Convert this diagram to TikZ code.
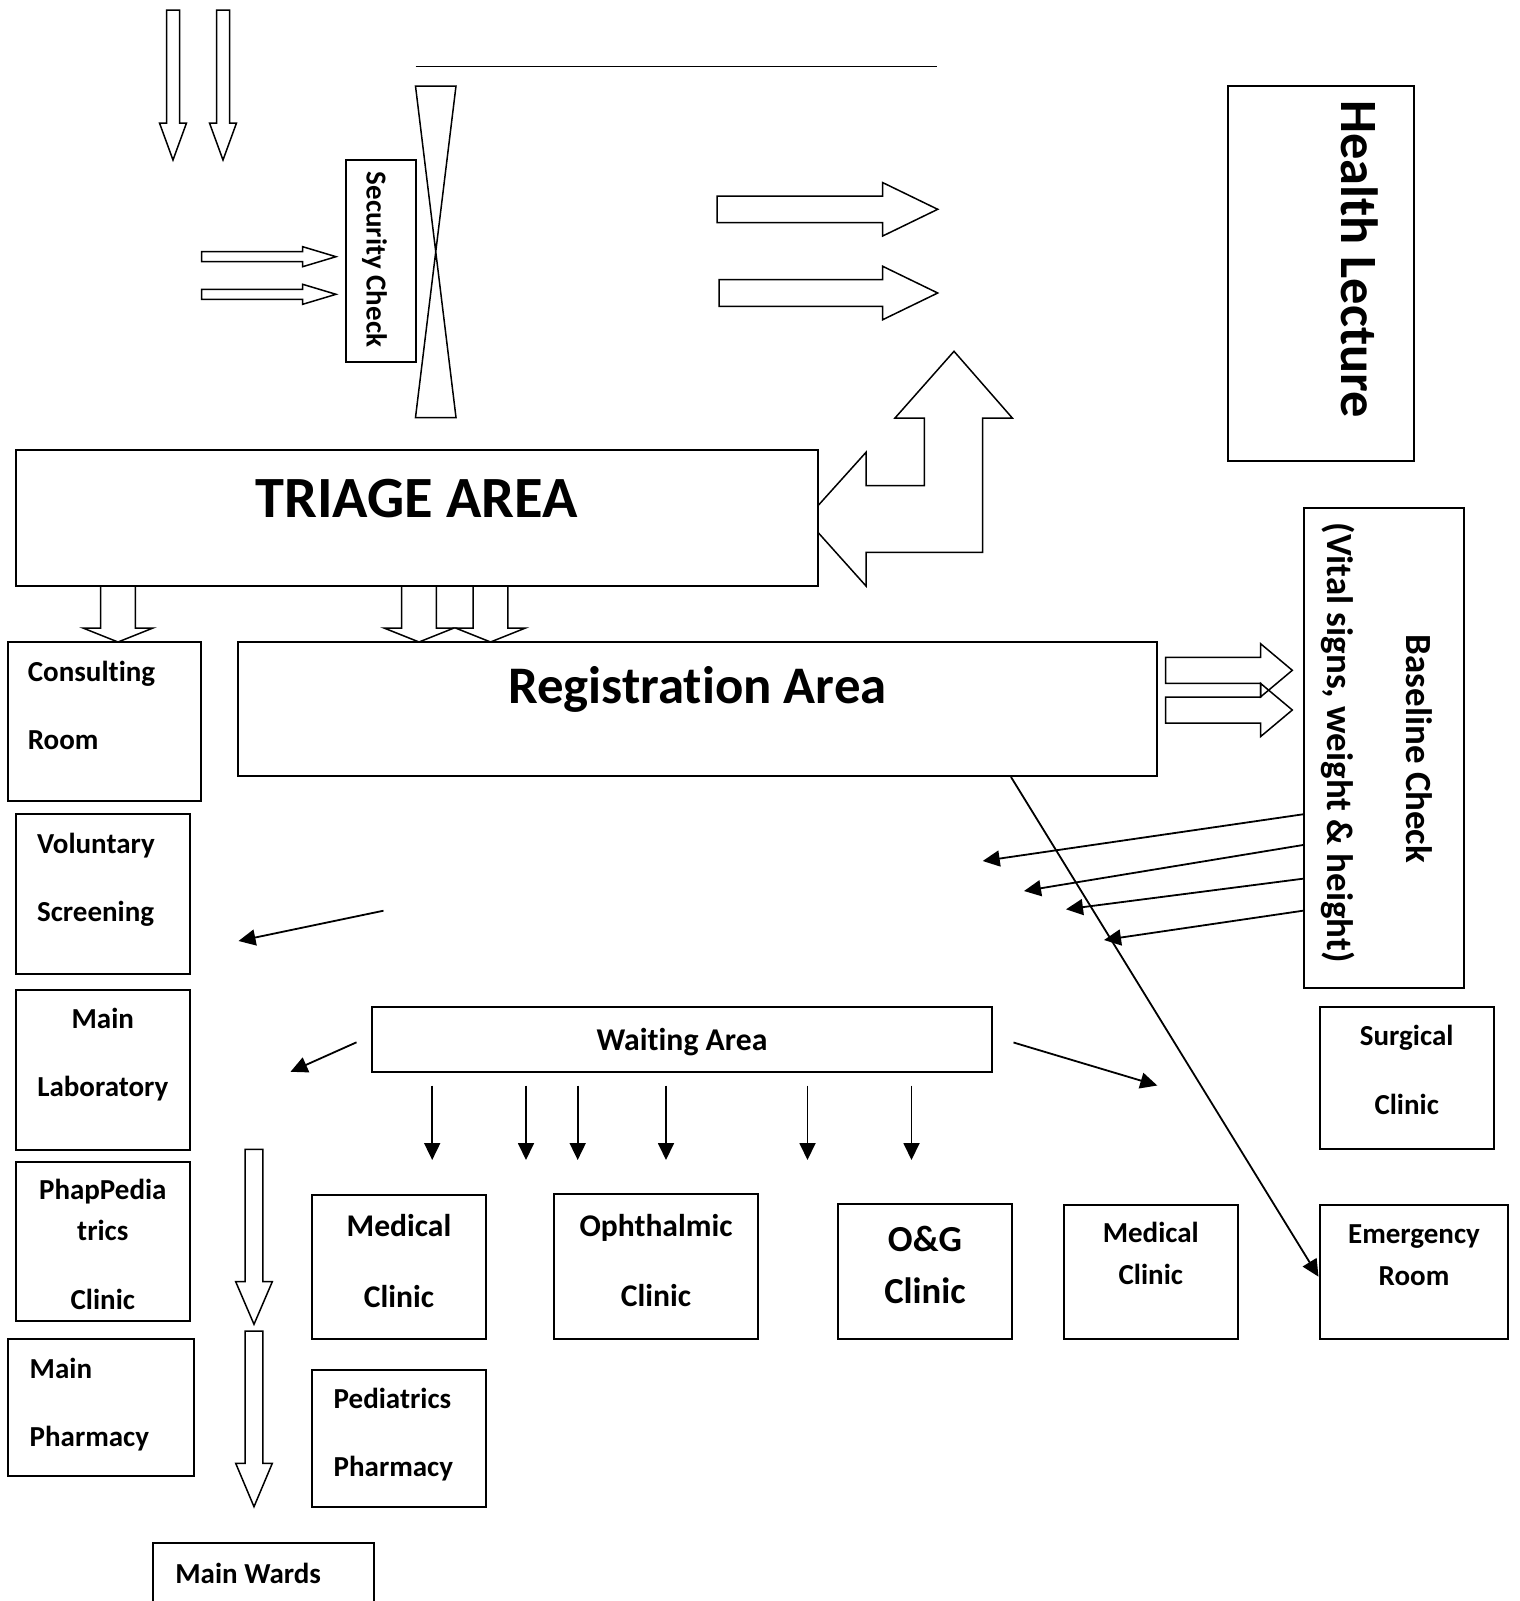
\documentclass[tikz,border=0pt]{standalone}
\usepackage{fontspec}
\setmainfont{Carlito}[Ligatures={NoCommon}]
\usetikzlibrary{arrows.meta,fit,calc}

\tikzset{
  box/.style={draw, line width=1pt, fill=white, inner sep=0pt},
  lbl/.style={anchor=base, inner sep=0pt, font=\bfseries\fontsize{14.5pt}{17pt}\selectfont},
  lblw/.style={lbl, anchor=base west},
  hollow/.style={draw, line width=0.75pt, line join=miter},
  thin/.style={line width=0.9pt, -{Triangle[length=8.5pt,width=8pt]}},
}

\begin{document}
\begin{tikzpicture}[x=0.5pt,y=-0.5pt]
\useasboundingbox (0,0) rectangle (1520,1601);
\clip (0,0) rectangle (1520,1601);

% entrada
	\foreach \x in {173, 223}
		\draw[hollow] (\x-6.5,10) -- (\x+6.5,10) -- (\x+6.5,123) -- (\x+13.5,123) -- (\x,160) -- (\x-13.5,123) -- (\x-6.5,123) -- cycle;
	\foreach \y in {256.7, 294.3}
		\draw[hollow] (201.7,\y-5) -- (302.7,\y-5) -- (302.7,\y-10) -- (336,\y) -- (302.7,\y+10) -- (302.7,\y+5) -- (201.7,\y+5) -- cycle;

% seguridad y puerta
	\node[box, fit={(345.5,160) (416,361.5)}] (security) {};
	\node[lbl, rotate=-90] (securitytxt) at (366.7,259.5) {Security Check};
	\draw[line width=0.75pt] (415.5,66.4) -- (937,66.4);
	\draw[hollow] (415.5,86) -- (456,86) -- (415.5,417.5) -- (456,417.5) -- cycle;
	\foreach \l/\y in {717/209.3, 719/293}
		\draw[hollow] (\l,\y-13.3) -- (882.7,\y-13.3) -- (882.7,\y-26.7) -- (937.7,\y) -- (882.7,\y+26.7) -- (882.7,\y+13.3) -- (\l,\y+13.3) -- cycle;

% charla
	\node[box, fit={(1228,85.7) (1413.7,461)}] (health) {};
	\node[lbl, rotate=-90, font=\bfseries\fontsize{26.2pt}{31pt}\selectfont] (healthtxt) at (1341.7,259.2) {Health Lecture};

% triaje
	\draw[hollow, fill=white] (806,519) -- (866,452.3) -- (866,485.7) -- (924.3,485.7) -- (924.3,418) -- (895,418) -- (954,351.3) -- (1012.3,418) -- (982.7,418) -- (982.7,552.3) -- (866,552.3) -- (866,586) -- cycle;
	\node[box, fit={(15.5,450) (817.5,586)}] (triage) {};
	\node[lbl, font=\bfseries\fontsize{29.2pt}{35pt}\selectfont] (triagetxt) at (416.5,517) {TRIAGE AREA};
	\foreach \x in {118, 419, 490.5}
		\draw[hollow] (\x-17.3,586) -- (\x-17.3,628) -- (\x-35,628) -- (\x,642) -- (\x+35,628) -- (\x+17.3,628) -- (\x+17.3,586);

% registro
	\node[box, fit={(8,642) (201,801)}] (consult) {};
	\node[lblw] (consulttxt) at (27.5,681.5) {Consulting};
	\node[lblw] (consultroom) at (27.5,749) {Room};
	\node[box, fit={(237.7,642) (1157.3,776)}] (registration) {};
	\node[lbl, font=\bfseries\fontsize{26.4pt}{31pt}\selectfont] (registrationtxt) at (697.5,703.3) {Registration Area};
	\foreach \y in {670.3, 710}
		\draw[hollow] (1165.7,\y-13) -- (1260.7,\y-13) -- (1260.7,\y-26.5) -- (1292.3,\y) -- (1260.7,\y+26.5) -- (1260.7,\y+13) -- (1165.7,\y+13) -- cycle;

% control basal
	\node[box, fit={(1304,508.3) (1464,988.3)}] (baseline) {};
	\node[lbl, rotate=-90, font=\bfseries\fontsize{18.45pt}{22pt}\selectfont] (baselinetxt) at (1406.7,749) {Baseline Check};
	\node[lbl, rotate=-90, font=\bfseries\fontsize{18.45pt}{22pt}\selectfont] (baselinenote) at (1327,742.5) {(Vital signs, weight \& height)};
	\foreach \ys/\xt/\yt in {814.3/982.7/861, 845/1024/891, 878.7/1066/909.3, 910.7/1104/940}
		\draw[thin] (baseline.west |- 0,\ys) -- (\xt,\yt);

% columna izquierda
	\node[box, fit={(15.7,814) (190,974)}] (voluntary) {};
	\node[lblw] (voluntarytxt) at (36.7,853.3) {Voluntary};
	\node[lblw] (voluntaryscr) at (36.7,921.7) {Screening};
	\node[box, fit={(15.7,989.5) (190,1149.5)}] (mainlab) {};
	\node[lbl] (mainlabtxt) at (102.8,1028.3) {Main};
	\node[lbl] (mainlablab) at (102.8,1096) {Laboratory};
	\node[box, fit={(15.7,1161.5) (190,1321)}] (phap) {};
	\node[lbl] (phaptxt) at (102.8,1199.3) {PhapPedia};
	\node[lbl] (phaptrics) at (102.8,1240) {trics};
	\node[lbl] (phapclinic) at (102.8,1309) {Clinic};
	\node[box, fit={(7.5,1339) (194,1475.5)}] (mainpharm) {};
	\node[lblw] (mainpharmtxt) at (29.3,1378.3) {Main};
	\node[lblw] (mainpharmph) at (29.3,1446) {Pharmacy};
	\node[box, fit={(153.3,1543) (373.5,1640)}] (wards) {};
	\node[lblw] (wardstxt) at (175,1583.3) {Main Wards};
	\foreach \t/\h/\e in {1149.3/1281.7/1324.3, 1331/1463.3/1506.7}
		\draw[hollow] (245.2,\t) -- (262.8,\t) -- (262.8,\h) -- (272.3,\h) -- (254,\e) -- (235.7,\h) -- (245.2,\h) -- cycle;

% espera
	\node[box, fit={(371.8,1007.4) (992,1071.7)}] (waiting) {};
	\node[lbl, font=\bfseries\fontsize{15.85pt}{19pt}\selectfont] (waitingtxt) at (682,1050) {Waiting Area};

% consultorios
	\node[box, fit={(311.7,1195) (486.2,1339)}] (medical) {};
	\node[lbl, font=\bfseries\fontsize{15.8pt}{19pt}\selectfont] (medicaltxt) at (399,1236.7) {Medical};
	\node[lbl, font=\bfseries\fontsize{15.8pt}{19pt}\selectfont] (medicalclinic) at (399,1307.7) {Clinic};
	\node[box, fit={(311.7,1370) (486.2,1506.7)}] (pedpharm) {};
	\node[lblw] (pedpharmtxt) at (333.3,1408.3) {Pediatrics};
	\node[lblw] (pedpharmph) at (333.3,1476.7) {Pharmacy};
	\node[box, fit={(553.6,1194.3) (758,1339)}] (ophth) {};
	\node[lbl, font=\bfseries\fontsize{15.8pt}{19pt}\selectfont] (ophthtxt) at (656,1236) {Ophthalmic};
	\node[lbl, font=\bfseries\fontsize{15.8pt}{19pt}\selectfont] (ophthclinic) at (656,1306) {Clinic};
	\node[box, fit={(837.8,1204.4) (1012.3,1339)}] (og) {};
	\node[lbl, font=\bfseries\fontsize{18.35pt}{22pt}\selectfont] (ogtxt) at (925,1251) {O\&G};
	\node[lbl, font=\bfseries\fontsize{18.35pt}{22pt}\selectfont] (ogclinic) at (925,1303.3) {Clinic};
	\node[box, fit={(1063.5,1205) (1238.3,1339)}] (medicalb) {};
	\node[lbl] (medicalbtxt) at (1150.8,1242.3) {Medical};
	\node[lbl] (medicalbclinic) at (1150.8,1284) {Clinic};
	\node[box, fit={(1319.5,1007.4) (1494,1149.3)}] (surgical) {};
	\node[lbl] (surgicaltxt) at (1406.7,1045.7) {Surgical};
	\node[lbl] (surgicalclinic) at (1406.7,1114) {Clinic};
	\node[box, fit={(1319.5,1205) (1508,1339)}] (emergency) {};
	\node[lbl] (emergencytxt) at (1414,1243.3) {Emergency};
	\node[lbl] (emergencyroom) at (1414,1285.7) {Room};

% flechas
	\foreach \x in {432.2, 526, 577.7, 666, 807.5, 911.5}
		\draw[thin] (\x,1085.5) -- (\x,1160);
	\draw[thin] (1013.5,1042.5) -- (1157.3,1085.5);
	\draw[thin] (356.5,1042.3) -- (290.5,1071.8);
	\draw[thin] (383.5,910.7) -- (238.5,941);
	\draw[thin] (registration.south -| 1011,0) -- (emergency.west |- 0,1276.7);
\end{tikzpicture}
\end{document}
